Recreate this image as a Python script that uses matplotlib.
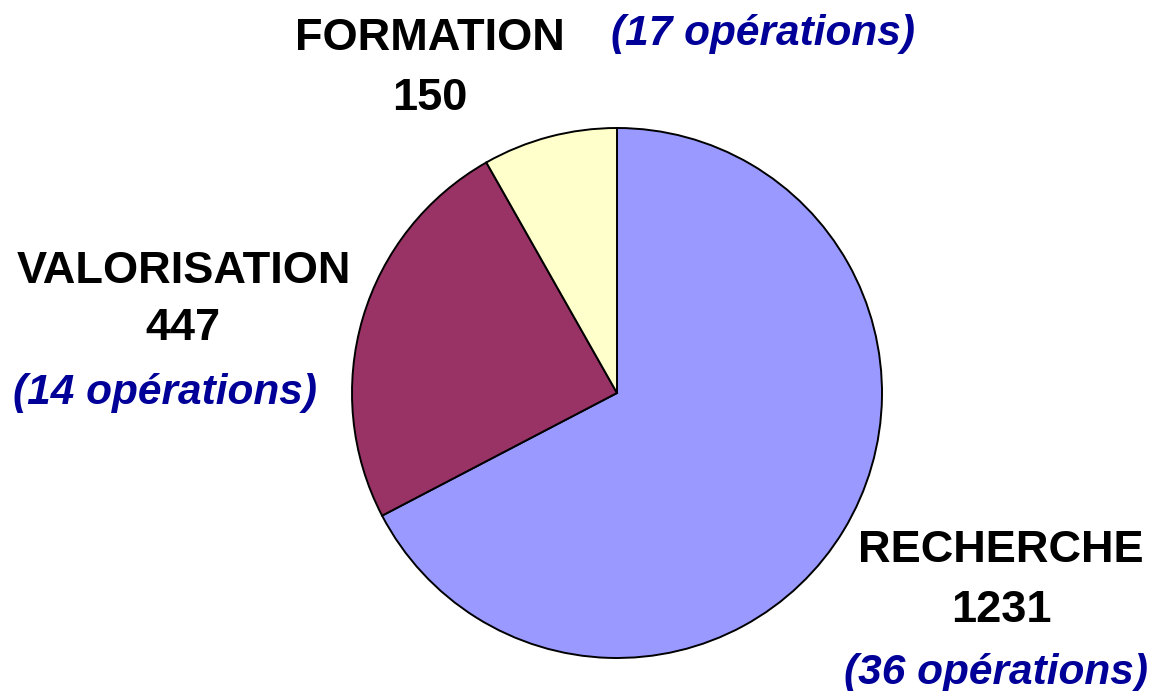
from matplotlib import pyplot as plt

# data
categories = ['RECHERCHE', 'VALORISATION', 'FORMATION']
amounts = [1231, 447, 150]
operations = [36, 14, 17]
colors = ['#9999FF', '#993366', '#FFFFCC']

W, H = 1154, 691

# label positions in pixels (x centre, baseline of first line)
name_pos = {'RECHERCHE': (1001, 562), 'VALORISATION': (184, 283), 'FORMATION': (430, 50)}
value_pos = {'RECHERCHE': (1001, 622), 'VALORISATION': (183, 340), 'FORMATION': (430, 110)}
ops_pos = {'RECHERCHE': (996, 684), 'VALORISATION': (165, 404), 'FORMATION': (763, 45)}


def fx(x):
    return x / W


def fy(y):
    return 1 - y / H


def plot():
    fig = plt.figure(figsize=(W / 100, H / 100), dpi=100)

    # square axes so the pie sits at (617, 393) with radius 265 px
    cx, cy, r = 617, 393, 265
    ax = fig.add_axes([fx(cx - r), fy(cy + r), 2 * r / W, 2 * r / H])
    ax.pie(amounts, colors=colors, startangle=90, counterclock=False, radius=1,
           wedgeprops={'edgecolor': 'black', 'linewidth': 1.4})
    ax.set_xlim(-1, 1)
    ax.set_ylim(-1, 1)
    ax.set_aspect('equal')
    ax.axis('off')

    font = ['Liberation Sans', 'DejaVu Sans']
    size = 32.5
    ops_size = 30.5
    for name, value, ops in zip(categories, amounts, operations):
        x, y = name_pos[name]
        fig.text(fx(x), fy(y), name, ha='center', va='baseline', fontsize=size,
                 fontweight='bold', family=font, color='black')
        x, y = value_pos[name]
        fig.text(fx(x), fy(y), str(value), ha='center', va='baseline', fontsize=size,
                 fontweight='bold', family=font, color='black')
        x, y = ops_pos[name]
        fig.text(fx(x), fy(y), f'({ops} opérations)', ha='center', va='baseline',
                 fontsize=ops_size, fontweight='bold', fontstyle='italic', family=font,
                 color='#000099')

    return fig


plotFigure = plot()
plotFigure.savefig('out.png', dpi=100)
